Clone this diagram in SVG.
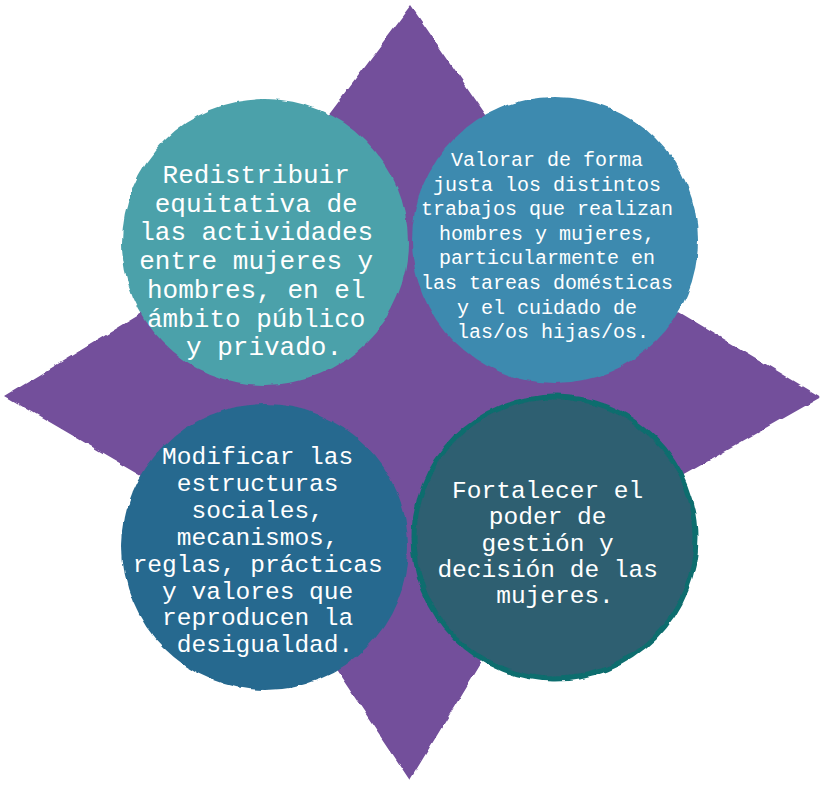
<svg xmlns="http://www.w3.org/2000/svg" width="822" height="787" viewBox="0 0 822 787">
  <defs>
    <filter id="rough" x="-10%" y="-10%" width="120%" height="120%">
      <feTurbulence type="fractalNoise" baseFrequency="0.06" numOctaves="2" seed="3" result="n"/>
      <feDisplacementMap in="SourceGraphic" in2="n" scale="5" xChannelSelector="R" yChannelSelector="G"/>
    </filter>
  </defs>
  <style>
    .lbl { font-family: "Liberation Mono", "Courier New", monospace; fill: #ffffff; text-anchor: middle; }
    .star { fill: #734f9b; }
  </style>
  <rect width="822" height="787" fill="#ffffff"/>
  <g id="star">
    <polygon class="star" filter="url(#rough)" points="411,6 582,254 821,397 548,552 410,780 248,538 5,396 210,272"/>
  </g>
  <g id="connectors"></g>
  <g id="node-redistribuir">
    <circle cx="265" cy="242" r="143" fill="#4ba1aa" filter="url(#rough)"/>
    <text class="lbl" font-size="26" x="264">
      <tspan x="264" y="183">Redistribuir</tspan>
      <tspan x="264" y="211.7">equitativa de</tspan>
      <tspan x="264" y="240.4">las actividades</tspan>
      <tspan x="264" y="269.1">entre mujeres y</tspan>
      <tspan x="264" y="297.8">hombres, en el</tspan>
      <tspan x="264" y="326.5">ámbito público</tspan>
      <tspan x="264" y="355.2">y privado.</tspan>
    </text>
  </g>
  <g id="node-valorar">
    <circle cx="555" cy="240" r="143" fill="#3d8aaf" filter="url(#rough)"/>
    <text class="lbl" font-size="20" x="553">
      <tspan x="553" y="166">Valorar de forma</tspan>
      <tspan x="553" y="190.6">justa los distintos</tspan>
      <tspan x="553" y="215.2">trabajos que realizan</tspan>
      <tspan x="553" y="239.8">hombres y mujeres,</tspan>
      <tspan x="553" y="264.4">particularmente en</tspan>
      <tspan x="553" y="289">las tareas domésticas</tspan>
      <tspan x="553" y="313.6">y el cuidado de</tspan>
      <tspan x="553" y="338.2">las/os hijas/os.</tspan>
    </text>
  </g>
  <g id="node-modificar">
    <circle cx="265" cy="547" r="143" fill="#27698f" filter="url(#rough)"/>
    <text class="lbl" font-size="24.5" x="265">
      <tspan x="265" y="464">Modificar las</tspan>
      <tspan x="265" y="490.9">estructuras</tspan>
      <tspan x="265" y="517.8">sociales,</tspan>
      <tspan x="265" y="544.7">mecanismos,</tspan>
      <tspan x="265" y="571.6">reglas, prácticas</tspan>
      <tspan x="265" y="598.5">y valores que</tspan>
      <tspan x="265" y="625.4">reproducen la</tspan>
      <tspan x="265" y="652.3">desigualdad.</tspan>
    </text>
  </g>
  <g id="node-fortalecer">
    <circle cx="555" cy="538" r="141" fill="#2d5f71" stroke="#0f6d6e" stroke-width="5" filter="url(#rough)"/>
    <text class="lbl" font-size="24.5" x="555">
      <tspan x="555" y="498">Fortalecer el</tspan>
      <tspan x="555" y="524.3">poder de</tspan>
      <tspan x="555" y="550.6">gestión y</tspan>
      <tspan x="555" y="576.9">decisión de las</tspan>
      <tspan x="555" y="603.2">mujeres.</tspan>
    </text>
  </g>
</svg>
